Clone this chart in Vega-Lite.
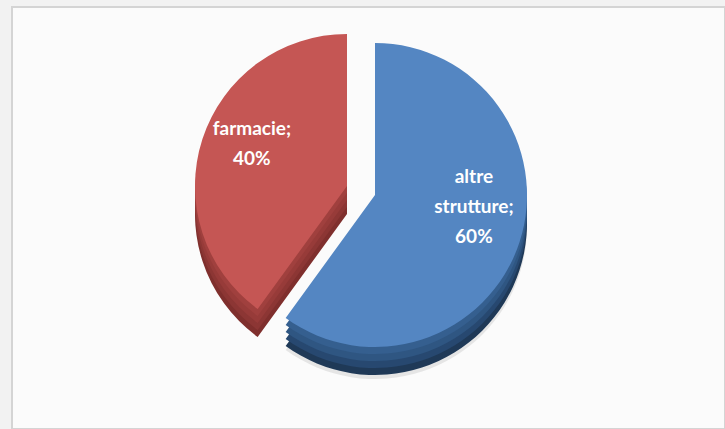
{
  "$schema": "https://vega.github.io/schema/vega-lite/v6.json",
  "width": 725,
  "height": 429,
  "autosize": {"type": "fit", "contains": "padding"},
  "padding": {"left": 12, "top": 7, "right": 0, "bottom": 0},
  "background": "#f2f2f2",
  "view": {"fill": "#fbfbfb", "stroke": "#d4d4d4", "strokeWidth": 2},
  "data": {
    "values": [
      {"categoria": "altre strutture", "ordine": 1, "valore": 60, "etichetta": "altre\nstrutture;\n60%"},
      {"categoria": "farmacie", "ordine": 2, "valore": 40, "etichetta": "farmacie;\n40%"}
    ]
  },
  "transform": [
    {"stack": "valore", "groupby": [], "sort": [{"field": "ordine"}], "as": ["t0", "t1"]},
    {"calculate": "(datum.t0 + datum.t1) / 2", "as": "tmid"}
  ],
  "encoding": {
    "theta": {"field": "t0", "type": "quantitative", "scale": {"domain": [0, 100]}},
    "theta2": {"field": "t1"}
  },
  "layer": [
    {"transform": [{"filter": "datum.categoria === 'altre strutture'"}],
     "mark": {"type": "arc", "radius": 152, "xOffset": 6.5, "yOffset": 9, "color": "#cfcfcf", "opacity": 0.5}},
    {"transform": [{"filter": "datum.categoria === 'altre strutture'"}],
     "mark": {"type": "arc", "radius": 152, "xOffset": 6.5, "yOffset": 5, "color": "#1f3957"}},
    {"transform": [{"filter": "datum.categoria === 'altre strutture'"}],
     "mark": {"type": "arc", "radius": 152, "xOffset": 6.5, "yOffset": -2, "color": "#274870"}},
    {"transform": [{"filter": "datum.categoria === 'altre strutture'"}],
     "mark": {"type": "arc", "radius": 152, "xOffset": 6.5, "yOffset": -9, "color": "#2f5682"}},
    {"transform": [{"filter": "datum.categoria === 'altre strutture'"}],
     "mark": {"type": "arc", "radius": 152, "xOffset": 6.5, "yOffset": -16, "color": "#355f8f"}},
    {"transform": [{"filter": "datum.categoria === 'farmacie'"}],
     "mark": {"type": "arc", "radius": 152, "xOffset": -21.5, "yOffset": -4, "color": "#7f2f2d"}},
    {"transform": [{"filter": "datum.categoria === 'farmacie'"}],
     "mark": {"type": "arc", "radius": 152, "xOffset": -21.5, "yOffset": -11, "color": "#8c3634"}},
    {"transform": [{"filter": "datum.categoria === 'farmacie'"}],
     "mark": {"type": "arc", "radius": 152, "xOffset": -21.5, "yOffset": -18, "color": "#973b39"}},
    {"transform": [{"filter": "datum.categoria === 'farmacie'"}],
     "mark": {"type": "arc", "radius": 152, "xOffset": -21.5, "yOffset": -25, "color": "#a0403e"}},
    {"transform": [{"filter": "datum.categoria === 'altre strutture'"}],
     "mark": {"type": "arc", "radius": 152, "xOffset": 6.5, "yOffset": -23, "color": "#5486c2"}},
    {"transform": [{"filter": "datum.categoria === 'farmacie'"}],
     "mark": {"type": "arc", "radius": 152, "xOffset": -21.5, "yOffset": -32, "color": "#c55654"}},
    {"transform": [{"filter": "datum.categoria === 'altre strutture'"}],
     "mark": {"type": "text", "radius": 104, "xOffset": 6.5, "yOffset": -73, "color": "white", "font": "Lato", "fontWeight": "bold", "fontSize": 19, "lineBreak": "\n", "lineHeight": 30},
     "encoding": {"theta": {"field": "tmid", "type": "quantitative", "scale": {"domain": [0, 100]}}, "theta2": null, "text": {"field": "etichetta", "type": "nominal"}}},
    {"transform": [{"filter": "datum.categoria === 'farmacie'"}],
     "mark": {"type": "text", "radius": 100, "xOffset": -21.5, "yOffset": -58, "color": "white", "font": "Lato", "fontWeight": "bold", "fontSize": 19, "lineBreak": "\n", "lineHeight": 30},
     "encoding": {"theta": {"field": "tmid", "type": "quantitative", "scale": {"domain": [0, 100]}}, "theta2": null, "text": {"field": "etichetta", "type": "nominal"}}}
  ]
}
